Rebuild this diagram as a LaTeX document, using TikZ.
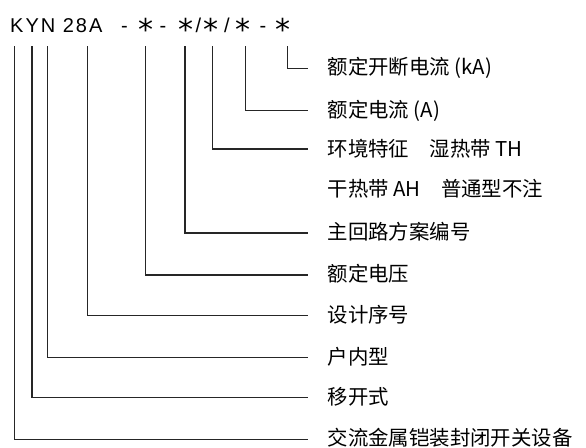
\documentclass[tikz,border=0pt]{standalone}
\usepackage{fontspec}
\setmainfont{Liberation Sans}
\newfontfamily\cjk{Noto Sans CJK SC}
\newfontfamily\titlefont[LetterSpace=10]{Liberation Sans}
\newfontfamily\starfont{DejaVu Sans}
\begin{document}
\begin{tikzpicture}[x=1pt,y=-1pt,
  ttl/.style={inner sep=0pt, anchor=base west, font=\titlefont\fontsize{20}{24}\selectfont},
  sym/.style={inner sep=0pt, anchor=base, font=\fontsize{20}{24}\selectfont},
  star/.style={inner sep=0pt, anchor=base, font=\starfont\fontsize{30}{34}\selectfont},
  lab/.style={inner sep=0pt, anchor=west, text height=15.5pt, text depth=0pt,
              font=\cjk\fontsize{20.4}{24}\selectfont},
  conn/.style={line width=1.1pt, draw=black!85}]
\path[use as bounding box] (0,0) rectangle (586,447);
% title
\node[ttl] (kyn) at (10,32.5) {KYN 28A};
\node[sym] (d1) at (124.5,32.5) {-};
\node[star] (s1) at (145.5,40.5) {*};
\node[sym] (d2) at (163,32.5) {-};
\node[star] (s2) at (186,40.5) {*};
\node[sym] (sl1) at (198.5,32.5) {/};
\node[star] (s3) at (211,40.5) {*};
\node[sym] (sl2) at (227,32.5) {/};
\node[star] (s4) at (243,40.5) {*};
\node[sym] (d3) at (263,32.5) {-};
\node[star] (s5) at (283,40.5) {*};
% labels
\node[lab] (l1) at (327.5,67) {额定开断电流 (kA)};
\node[lab] (l2) at (327.5,109.5) {额定电流 (A)};
\node[lab] (l3) at (327.5,148.5) {环境特征　湿热带 TH};
\node[lab] (l4) at (327.5,189) {干热带 AH　普通型不注};
\node[lab] (l5) at (327.5,232) {主回路方案编号};
\node[lab] (l6) at (327.5,274) {额定电压};
\node[lab] (l7) at (327.5,314.5) {设计序号};
\node[lab] (l8) at (327.5,356.5) {户内型};
\node[lab] (l9) at (327.5,397) {移开式};
\node[lab] (l10) at (327.5,438) {交流金属铠装封闭开关设备};
% connector tops
\coordinate (c1) at (287.7,46);
\coordinate (c2) at (245.7,46);
\coordinate (c3) at (212.7,46);
\coordinate (c5) at (185,46);
\coordinate (c6) at (145.7,46);
\coordinate (c7) at (87.3,46);
\coordinate (c8) at (47.7,46);
\coordinate (c9) at (32,46);
\coordinate (c10) at (14.7,46);
\coordinate (e1) at (308,68.3);
\coordinate (e2) at (308,110.7);
\coordinate (e3) at (308,149);
\coordinate (e5) at (308,233);
\coordinate (e6) at (308,275);
\coordinate (e7) at (308,315.3);
\coordinate (e8) at (308,357.7);
\coordinate (e9) at (308,397.7);
\coordinate (e10) at (308,439.3);
\draw[conn] (c1) |- (e1);
\draw[conn] (c2) |- (e2);
\draw[conn] (c3) |- (e3);
\draw[conn] (c5) |- (e5);
\draw[conn] (c6) |- (e6);
\draw[conn] (c7) |- (e7);
\draw[conn] (c8) |- (e8);
\draw[conn] (c9) |- (e9);
\draw[conn] (c10) |- (e10);
\end{tikzpicture}
\end{document}
